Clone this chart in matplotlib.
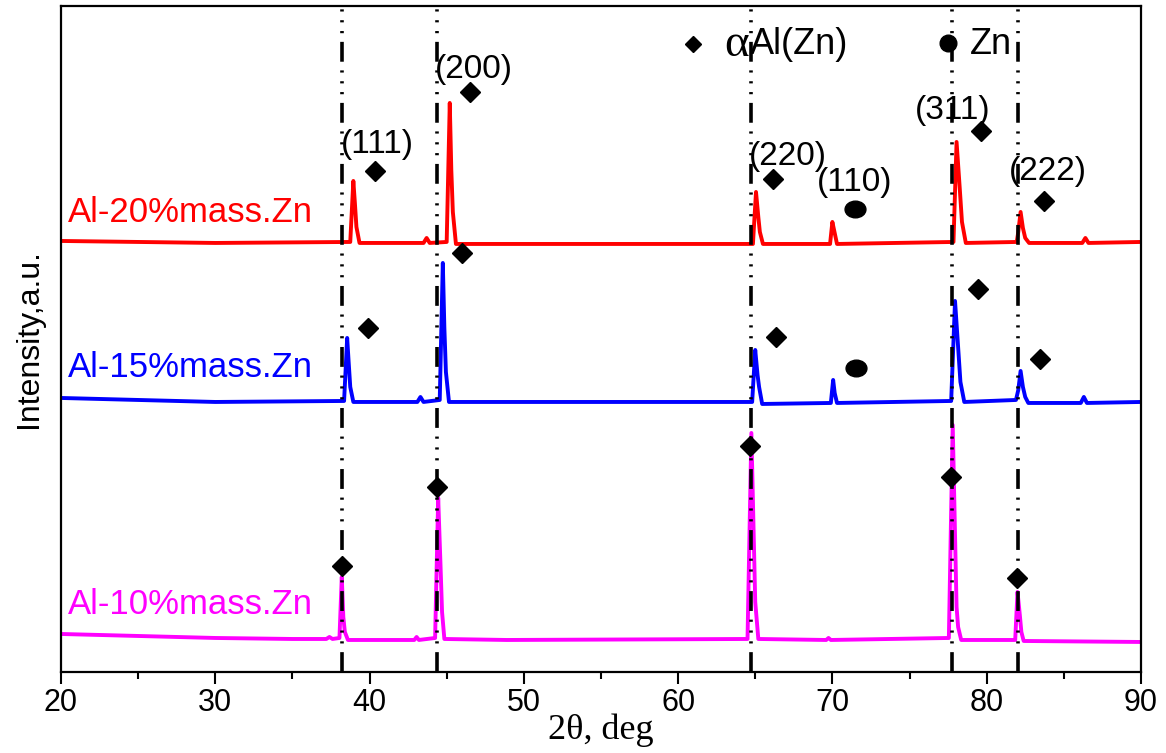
import matplotlib
matplotlib.use("Agg")
import matplotlib.pyplot as plt
from matplotlib.path import Path
from matplotlib.transforms import Affine2D

# 2theta / intensity vertices (a.u.)
x_10 = [20, 25, 30, 35, 37.2, 37.4, 37.6, 38.05, 38.2, 38.3, 38.4, 38.6, 42.9, 43.05, 43.2,
        44.25, 44.45, 44.6, 44.7, 44.85, 48.9, 64.5, 64.75, 64.9, 65.0, 65.2, 69.6, 69.75, 69.9,
        77.55, 77.8, 77.95, 78.05, 78.15, 78.35, 81.85, 82.0, 82.15, 82.25, 82.4, 90]
y_10 = [38, 36, 34, 33, 33, 35, 33, 34, 95, 55, 40, 32, 32, 35, 32,
        34, 174, 107, 60, 33, 32, 33, 239, 137, 70, 33, 32, 34, 32,
        34, 247, 137, 65, 45, 32, 32, 80, 57, 40, 31, 30]

x_15 = [20, 25, 30, 38.35, 38.55, 38.65, 38.75, 38.95, 43.1, 43.3, 43.5, 44.55, 44.75, 44.85,
        44.95, 45.15, 64.8, 65.0, 65.15, 65.25, 65.45, 69.9, 70.05, 70.15, 70.3, 77.7, 77.95,
        78.15, 78.3, 78.55, 81.9, 82.05, 82.2, 82.35, 82.5, 82.7, 86.1, 86.3, 86.5, 90]
y_15 = [274, 272, 270, 271, 334, 309, 285, 270, 270, 275, 270, 272, 409, 344,
        300, 270, 270, 322, 297, 285, 268, 269, 292, 279, 269, 271, 371,
        325, 290, 270, 272, 282, 301, 285, 275, 269, 269, 275, 269, 270]

x_20 = [20, 30, 38.75, 38.95, 39.05, 39.15, 39.35, 43.5, 43.7, 43.9, 45.0, 45.2, 45.3, 45.4,
        45.6, 64.85, 65.05, 65.2, 65.3, 65.5, 69.85, 70.0, 70.15, 70.3, 77.85, 78.05, 78.25,
        78.4, 78.65, 81.95, 82.05, 82.2, 82.35, 82.5, 82.75, 86.2, 86.4, 86.6, 90]
y_20 = [431, 429, 430, 491, 469, 445, 429, 429, 434, 429, 430, 569, 502, 460,
        428, 428, 480, 455, 440, 428, 428, 450, 439, 428, 430, 530, 485,
        450, 429, 430, 440, 460, 444, 434, 429, 429, 434, 429, 430]

ref_lines = [38.2, 44.37, 64.72, 77.74, 82.02]

# phase markers
dia_x_20 = [40.35, 46.51, 66.14, 79.62, 83.71]
dia_y_20 = [501, 580, 493, 541, 471]
dia_x_15 = [39.9, 45.99, 66.34, 79.43, 83.45]
dia_y_15 = [344, 419, 335, 383, 313]
dia_x_10 = [38.21, 44.37, 64.65, 77.68, 81.96]
dia_y_10 = [106, 185, 226, 195, 94]
zn_x = [71.46, 71.52]
zn_y = [463, 304]

hkl = ["(111)", "(200)", "(220)", "(110)", "(311)", "(222)"]
hkl_x = [40.48, 46.77, 67.12, 71.46, 77.81, 83.97]
hkl_y = [527, 602, 515, 489, 561, 500]

samples = ["Al-20%mass.Zn", "Al-15%mass.Zn", "Al-10%mass.Zn"]
sample_y = [459, 304, 67]
colors = ["#ff0000", "#0000ff", "#ff00ff"]

ellipse = Path.unit_circle().transformed(Affine2D().scale(1.0, 0.8))

fig = plt.figure(figsize=(11.66, 7.53), dpi=100)
ax = fig.add_axes([0.0523, 0.1076, 0.9262, 0.8845])

ax.plot(x_20, y_20, color=colors[0], lw=2.8)
ax.plot(x_15, y_15, color=colors[1], lw=2.8)
ax.plot(x_10, y_10, color=colors[2], lw=2.8)

for xv in ref_lines:
    ax.axvline(xv, color="black", lw=2.6,
               dashes=(5.5, 2.4, 0.6, 2.4, 0.6, 2.4, 0.6, 2.4), dash_capstyle="butt")

for dx, dy in [(dia_x_20, dia_y_20), (dia_x_15, dia_y_15), (dia_x_10, dia_y_10)]:
    ax.plot(dx, dy, "D", color="black", ms=10, zorder=5)
ax.plot(zn_x, zn_y, marker=ellipse, ls="none", color="black", ms=15, zorder=5)

for t, tx, ty in zip(hkl, hkl_x, hkl_y):
    ax.text(tx, ty, t, ha="center", va="center", fontsize=24, family="Liberation Sans")

for t, ty, c in zip(samples, sample_y, colors):
    ax.text(20.45, ty, t, ha="left", va="center", fontsize=25, color=c, family="Liberation Sans")

# legend drawn by hand
ax.plot([60.96], [628], "D", color="black", ms=8.5, zorder=5)
ax.text(64.6, 627, "α", ha="right", va="center", fontsize=34, family="Liberation Serif")
ax.text(64.65, 627, "Al(Zn)", ha="left", va="center", fontsize=26, family="Liberation Sans")
ax.plot([77.49], [629], "o", color="black", ms=12, zorder=5)
ax.text(78.9, 627, "Zn", ha="left", va="center", fontsize=26, family="Liberation Sans")

ax.set_xlim(20, 90)
ax.set_ylim(0, 666)
ax.set_yticks([])
ax.set_xticks(range(20, 91, 10))
ax.set_xticks(range(25, 90, 10), minor=True)
ax.tick_params(axis="x", which="major", direction="out", length=8.5, width=1.5,
               pad=3, labelsize=22)
ax.tick_params(axis="x", which="minor", direction="out", length=5, width=1.5)
for lab in ax.get_xticklabels():
    lab.set_family("Liberation Sans")
for s in ax.spines.values():
    s.set_linewidth(1.6)

ax.set_xlabel("2θ, deg", fontsize=26, family="Liberation Serif", labelpad=-3)
ax.set_ylabel("Intensity,a.u.", fontsize=23, family="Liberation Sans", labelpad=12)

fig.savefig("out.png", dpi=100)
